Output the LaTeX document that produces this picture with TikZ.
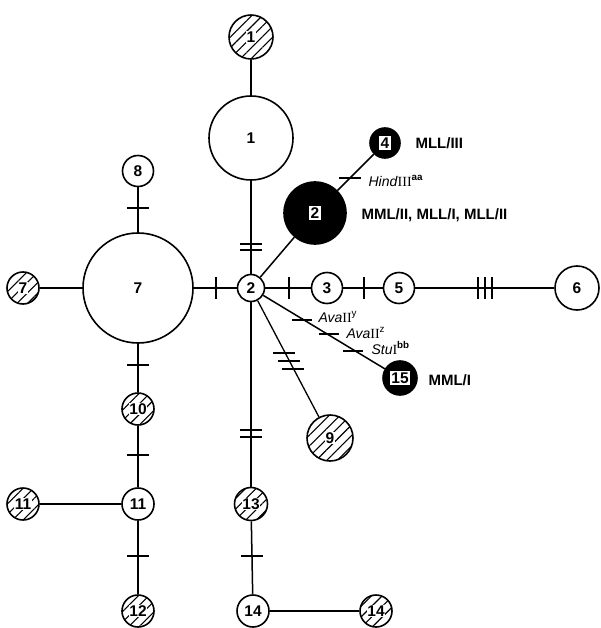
\documentclass[tikz,border=0pt]{standalone}
\usepackage{fontspec}
\setmainfont{Liberation Sans}
\newfontfamily\romanum{Liberation Serif}
\usetikzlibrary{patterns.meta}

% white patch behind a number so the hatching stops short of it
\newcommand\numpatch[1]{{\setlength\fboxsep{0.6pt}\colorbox{white}{#1}}}
% white box holding the number of a filled haplotype
\newcommand\numbox[1]{{\setlength\fboxsep{1.4pt}\colorbox{white}{\textcolor{black}{#1}}}}
% roman numerals of the enzyme names
\newcommand\rn[1]{{\romanum #1}}

\begin{document}
\begin{tikzpicture}[x=1pt,y=-1pt,
  numfont/.style={font=\bfseries\fontsize{15.5}{15.5}\selectfont},
  hap/.style={circle, draw, line width=1.6pt, fill=white, inner sep=0pt,
              minimum size=#1, numfont},
  hatched/.style={circle, draw, line width=1.6pt, inner sep=0pt, minimum size=#1,
              pattern={Lines[angle=45,distance=7.5pt,line width=1.1pt]}, numfont},
  filled/.style={circle, draw, line width=1.6pt, fill=black, inner sep=0pt,
              minimum size=#1, numfont},
  edge/.style={line width=1.5pt},
  tick/.style={line width=1.4pt},
  tag/.style={anchor=west, font=\bfseries\fontsize{15}{15}\selectfont},
  site/.style={anchor=west, font=\fontsize{14}{14}\selectfont},
]
\useasboundingbox (0,0) rectangle (600,628);

% haplotypes
\node[hatched=44pt] (h1)  at (251,37)  {\numpatch{1}};
\node[hap=84pt]     (n1)  at (251,138) {1};
\node[hap=27pt]     (n2)  at (251,288) {2};
\node[filled=62pt]  (b2)  at (315,213) {\numbox{2}};
\node[filled=30pt]  (b4)  at (385,143) {\numbox{4}};
\node[hap=31pt]     (n3)  at (327,288) {3};
\node[hap=31pt]     (n5)  at (399,288) {5};
\node[hap=44pt]     (n6)  at (577,288) {6};
\node[hap=110pt]    (n7)  at (138,288) {7};
\node[hap=31pt]     (n8)  at (138,171) {8};
\node[hatched=32pt] (h7)  at (23,288)  {\numpatch{7}};
\node[hatched=32pt] (h10) at (138,409) {\numpatch{10}};
\node[hap=32pt]     (n11) at (138,504) {11};
\node[hatched=32pt] (h11) at (23,504)  {\numpatch{11}};
\node[hatched=32pt] (h12) at (138,611) {\numpatch{12}};
\node[hatched=46pt] (h9)  at (330,438) {\numpatch{9}};
\node[filled=34pt]  (b15) at (400,378) {\numbox{15}};
\node[hatched=33pt] (h13) at (251,504) {\numpatch{13}};
\node[hap=32pt]     (n14) at (253,611) {14};
\node[hatched=32pt] (h14) at (376,611) {\numpatch{14}};

% connectors
\draw[edge] (h1) -- (n1);
\draw[edge] (n1) -- (n2);
\draw[edge] (n2) -- (b2);
\draw[edge] (b2) -- (b4);
\draw[edge] (n2) -- (n3);
\draw[edge] (n3) -- (n5);
\draw[edge] (n5) -- (n6);
\draw[edge] (n2) -- (n7);
\draw[edge] (n7) -- (h7);
\draw[edge] (n7) -- (n8);
\draw[edge] (n7) -- (h10);
\draw[edge] (h10) -- (n11);
\draw[edge] (n11) -- (h11);
\draw[edge] (n11) -- (h12);
\draw[line width=1.3pt] (n2) -- (h9);
\draw[edge] (n2) -- (b15);
\draw[edge] (n2) -- (h13);
\draw[edge] (h13) -- (n14);
\draw[edge] (n14) -- (h14);

% mutation marks on vertical connectors
\foreach \x/\y in {251/244, 251/250, 138/208, 138/365, 138/455, 138/556,
                   251/430, 251/437, 252/556, 350/178}
  \draw[tick] (\x-11,\y) -- (\x+11,\y);
% mutation marks on horizontal connectors
\foreach \x in {216, 289, 364, 478, 485, 492}
  \draw[tick] (\x,277) -- (\x,299);
% marks on the connector to 9
\foreach \x/\y in {284/353, 289/361, 293/369}
  \draw[tick] (\x-11,\y) -- (\x+11,\y);
% restriction-site marks on the connector to 15
\foreach \x/\y in {302/320, 329/334, 353/351}
  \draw[tick] (\x-10,\y) -- (\x+10,\y);

% labels
\node[tag]  (l4)  at (412,143) {MLL/III};
\node[tag]  (l2)  at (358,215) {MML/II, MLL/I, MLL/II};
\node[tag]  (l15) at (425,380) {MML/I};
\node[site] (s1)  at (365,181) {\textit{Hind}\rn{III}\textsuperscript{\bfseries aa}};
\node[site] (s2)  at (315,317) {\textit{Ava}\rn{II}\textsuperscript{y}};
\node[site] (s3)  at (343,333) {\textit{Ava}\rn{II}\textsuperscript{z}};
\node[site] (s4)  at (368,348) {\textit{Stu}\rn{I}\textsuperscript{\bfseries bb}};
\end{tikzpicture}
\end{document}
